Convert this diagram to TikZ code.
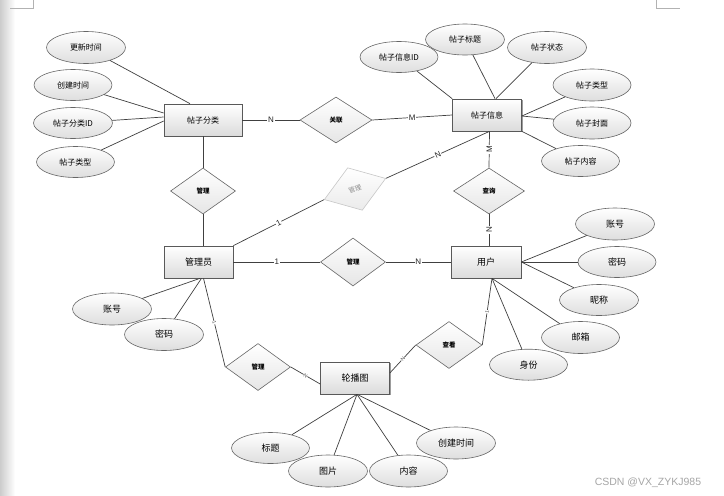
\documentclass[tikz,border=0pt]{standalone}
\usepackage{fontspec}
\setmainfont{Liberation Sans}
\newfontfamily\cjk{Noto Sans CJK SC}
\usetikzlibrary{shapes.geometric,shadows,calc}
\begin{document}
\begin{tikzpicture}[x=1pt,y=-1pt,
  conn/.style={draw=black!75, line width=0.7pt},
  ent/.style={rectangle, draw=black!65, line width=0.7pt, minimum width=69pt, minimum height=32pt, inner sep=0pt,
    top color=white, bottom color=black!14,
    drop shadow={shadow xshift=1.3pt, shadow yshift=-1.3pt, opacity=0.7, fill=black!55}},
  attr/.style={ellipse, draw=black!60, line width=0.6pt, minimum width=78pt, minimum height=31pt, inner sep=0pt,
    top color=white, bottom color=black!13},
  rel/.style={diamond, draw=black!60, line width=0.6pt, minimum width=65pt, minimum height=46pt, inner sep=0pt,
    top color=white, bottom color=black!10, font=\cjk\fontsize{6.5}{7}\selectfont\bfseries},
  ghost/.style={diamond, draw=black!22, line width=0.6pt, minimum width=65pt, minimum height=45pt, inner sep=0pt,
    top color=white, bottom color=black!8, text=black!45, font=\cjk\fontsize{6.5}{7}\selectfont},
  ftop/.style={font=\cjk\fontsize{8}{9}\selectfont},
  fbot/.style={font=\cjk\fontsize{9}{10}\selectfont},
  card/.style={fill=white, inner sep=0.8pt, font=\fontsize{8}{9}\selectfont, text=black!85},
  tiny/.style={fill=white, inner sep=0.3pt, font=\fontsize{5}{5}\selectfont, text=black!70},
  cornermark/.style={draw=black!30, line width=0.5pt}
]
\useasboundingbox (0,0) rectangle (724,496);
\fill[white] (0,0) rectangle (724,496);
\shade[left color=black!20, right color=white] (0,0) rectangle (15,496);
\coordinate (m1) at (10,8); \coordinate (m2) at (33,8); \coordinate (m3) at (33,0);
\draw[cornermark] (m1) -- (m2) -- (m3);
\coordinate (m4) at (656,0); \coordinate (m5) at (656,8); \coordinate (m6) at (680,8);
\draw[cornermark] (m4) -- (m5) -- (m6);

% entities
\node[ent, ftop, minimum width=78pt] (cat) at (203,120) {帖子分类};
\node[ent, ftop] (post) at (487,115) {帖子信息};
\node[ent, fbot] (admin) at (198.5,262) {管理员};
\node[ent, fbot, minimum width=70pt] (user) at (486,262) {用户};
\node[ent, fbot] (car) at (355,378) {轮播图};

% relationships
\node[rel, minimum width=72pt] (r1) at (336,120) {关联};
\node[rel] (r2) at (203,191) {管理};
\node[rel, minimum width=71pt] (r3) at (489,191) {查询};
\node[rel, minimum height=48pt] (r4) at (353,262) {管理};
\node[rel, minimum height=47pt] (r5) at (258,367) {管理};
\node[rel, minimum width=66pt, minimum height=47pt] (r6) at (449,345) {查看};
\node[ghost, rotate=19] (r7) at (355,189) {管理};

% attributes of 帖子分类
\node[attr, ftop, minimum width=79pt, minimum height=32pt] (a1) at (86,47.5) {更新时间};
\node[attr, ftop] (a2) at (73,85) {创建时间};
\node[attr, ftop, minimum width=79pt] (a3) at (73,123) {帖子分类ID};
\node[attr, ftop] (a4) at (75.5,162) {帖子类型};

% attributes of 帖子信息
\node[attr, ftop] (b1) at (399,57) {帖子信息ID};
\node[attr, ftop, minimum width=79pt] (b2) at (465,39.5) {帖子标题};
\node[attr, ftop, minimum width=79pt, minimum height=32pt] (b3) at (547,47.5) {帖子状态};
\node[attr, ftop, minimum height=32pt] (b4) at (592,85) {帖子类型};
\node[attr, ftop, minimum height=32pt] (b5) at (592,123) {帖子封面};
\node[attr, ftop] (b6) at (580.5,161) {帖子内容};

% attributes of 用户
\node[attr, fbot, minimum width=79pt, minimum height=32pt] (c1) at (615,224) {账号};
\node[attr, fbot] (c2) at (617,262) {密码};
\node[attr, fbot, minimum width=79pt] (c3) at (599,300) {昵称};
\node[attr, fbot, minimum height=32pt] (c4) at (580.5,337.5) {邮箱};
\node[attr, fbot] (c5) at (528.5,364.7) {身份};

% attributes of 管理员
\node[attr, fbot, minimum width=79pt, minimum height=32pt] (d1) at (112,309) {账号};
\node[attr, fbot, minimum width=79pt, minimum height=32pt] (d2) at (164,334.5) {密码};

% attributes of 轮播图
\node[attr, fbot] (e1) at (270.5,448) {标题};
\node[attr, fbot, minimum width=79pt, minimum height=32pt] (e2) at (328,471) {图片};
\node[attr, fbot, minimum height=32pt] (e3) at (408.5,471) {内容};
\node[attr, fbot, minimum width=79pt, minimum height=32pt] (e4) at (456,443) {创建时间};

% attribute lines
\draw[conn] (a1) -- ([xshift=-13pt]cat.north);
\draw[conn] (a2) -- ([yshift=7pt]cat.west);
\draw[conn] (a3) -- ([yshift=3pt]cat.west);
\draw[conn] (a4) -- ([yshift=-1pt]cat.west);

\draw[conn] (b1) -- (post.north west);
\draw[conn] (b2) -- ([xshift=8pt]post.north);
\draw[conn] (b3) -- ([xshift=9pt]post.north);
\draw[conn] (b4) -- ([yshift=-1pt]post.east);
\draw[conn] (b5) -- ([yshift=-1pt]post.east);
\draw[conn] (b6) -- (post.south east);

\draw[conn] (c1) -- (user.east);
\draw[conn] (c2) -- (user.east);
\draw[conn] (c3) -- (user.east);
\draw[conn] (c4) -- ([xshift=6pt]user.south);
\draw[conn] (c5) -- ([xshift=6pt]user.south);

\draw[conn] (d1) -- ([xshift=1.5pt]admin.south);
\draw[conn] (d2) -- ([xshift=3pt]admin.south);

\draw[conn] (e1) -- ([xshift=2pt]car.south);
\draw[conn] (e2) -- ([xshift=2pt]car.south);
\draw[conn] (e3) -- ([xshift=2pt]car.south);
\draw[conn] (e4) -- ([xshift=2pt]car.south);

% relationship lines
\draw[conn] (cat.east) -- node[card] {N} (r1.west);
\draw[conn] (r1.east) -- node[card] {M} (post.west);
\draw[conn] (cat.south) -- (r2.north);
\draw[conn] (r2.south) -- ([xshift=4.5pt]admin.north);
\draw[conn] (admin.north east) -- node[card, sloped] {1} (r7.west);
\draw[conn] (r7.east) -- node[card, sloped] {N} ([xshift=2.5pt]post.south);
\draw[conn] ([xshift=2.5pt]post.south) -- node[card, rotate=90] {M} (r3.north);
\draw[conn] (r3.south) -- node[card, rotate=90] {N} ([xshift=3pt]user.north);
\draw[conn] (admin.east) -- node[card] {1} (r4.west);
\draw[conn] (r4.east) -- node[card] {N} (user.west);
\draw[conn] ([xshift=5pt]admin.south) -- node[tiny, sloped] {1} (r5.west);
\draw[conn] (r5.east) -- node[tiny, sloped] {N} ([yshift=-6pt]car.west);
\draw[conn] ([yshift=5pt]car.east) -- node[tiny, sloped] {N} (r6.west);
\draw[conn] (r6.east) -- node[tiny, sloped] {1} ([xshift=6pt]user.south);

% watermark
\node[text=black!35, font=\fontsize{10.5}{11}\selectfont, inner sep=0pt] (wm) at (648,483) {CSDN @VX\_ZYKJ985};
\end{tikzpicture}
\end{document}
